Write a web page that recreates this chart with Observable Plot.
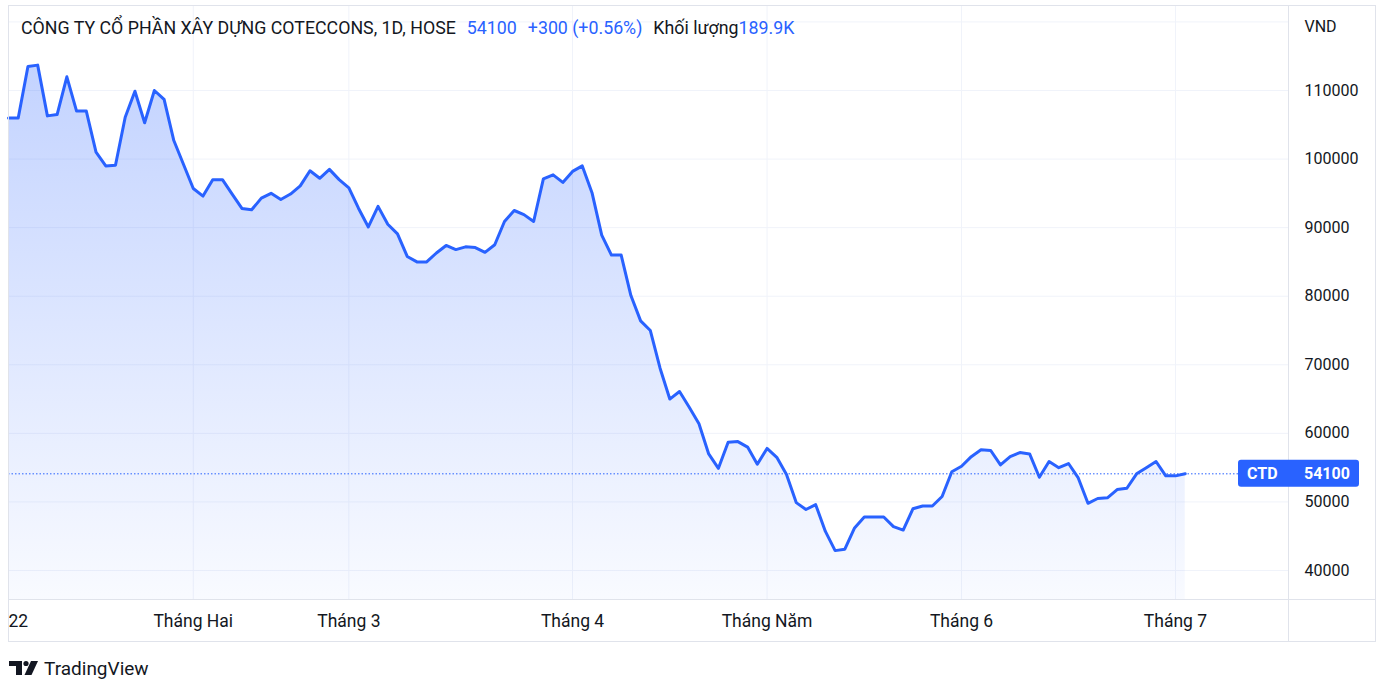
<!DOCTYPE html>
<html>
<head>
<meta charset="utf-8">
<script src="https://cdn.jsdelivr.net/npm/d3@7"></script>
<script src="https://cdn.jsdelivr.net/npm/@observablehq/plot@0.6"></script>
<style>
  body { margin: 0; background: #fff; font-family: Roboto, "Noto Sans", sans-serif; }
  #wrap { position: relative; width: 1390px; height: 694px; overflow: hidden; background: #fff; }
  #chart { position: absolute; left: 0; top: 0; }
  #title { position: absolute; left: 21px; top: 18px; line-height: 20px; font-size: 17.8px; color: #131722; white-space: nowrap; }
  #title .v { color: #2962ff; }
  #title .gap { margin-left: 11px; }
  #logo { position: absolute; left: 9px; top: 656px; height: 24px; display: flex; align-items: center; color: #131722; font-size: 19px; }
  #logo svg { margin-right: 5px; }
</style>
</head>
<body>
<div id="wrap">
  <div id="chart"></div>
  <div id="title"></div>
  <div id="logo"></div>
</div>
<script>
// ---------- data ----------
const ticker = "CTD";
const companyName = "CÔNG TY CỔ PHẦN XÂY DỰNG COTECCONS";
const interval = "1D";
const exchange = "HOSE";
const volumeLabel = "Khối lượng";
const volumeText = "189.9K";
const currency = "VND";
const brand = "TradingView";

// trading days of 2022, per month
const janDays = [4,5,6,7,10,11,12,13,14,17,18,19,20,21,24,25,26,27,28];
const febDays = [7,8,9,10,11,14,15,16,17,18,21,22,23,24,25,28];
const marDays = [1,2,3,4,7,8,9,10,11,14,15,16,17,18,21,22,23,24,25,28,29,30,31];
const aprDays = [1,4,5,6,7,8,12,13,14,15,18,19,20,21,22,25,26,27,28,29];
const mayDays = [4,5,6,9,10,11,12,13,16,17,18,19,20,23,24,25,26,27,30,31];
const junDays = [1,2,3,6,7,8,9,10,13,14,15,16,17,20,21,22,23,24,27,28,29,30];
const julDays = [1,4];

// daily closes (VND)
const closes = [
  106000,106000,113500,113700,106300,106500,112000,107000,107000,101000,
  99000,99100,106100,109900,105300,110000,108700,102700,99200,95700,
  94600,97000,97000,94900,92800,92600,94300,95000,94100,94900,
  96100,98300,97200,98500,97000,95800,92800,90100,93100,90500,
  89100,85800,85000,85000,86300,87400,86800,87200,87100,86400,
  87500,90900,92500,91900,90900,97100,97700,96600,98200,99000,
  95100,88900,86000,86000,80100,76400,75000,69500,65000,66100,
  63800,61400,57000,54900,58700,58800,58000,55500,57800,56500,
  54000,49900,48900,49600,45700,42900,43100,46200,47800,47800,
  47800,46400,45900,49000,49400,49400,50800,54400,55200,56600,
  57600,57500,55400,56600,57200,57000,53600,55900,55000,55600,
  53500,49800,50500,50600,51800,52000,54100,55000,55900,53800,
  53800,54100
];

const monthLabels = ["22","Tháng Hai","Tháng 3","Tháng 4","Tháng Năm","Tháng 6","Tháng 7"];
const yTickValues = [40000,50000,60000,70000,80000,90000,100000,110000];
const yGridValues = [40000,50000,60000,70000,80000,90000,100000,110000,120000];

// ---------- build tables ----------
const monthDays = [janDays, febDays, marDays, aprDays, mayDays, junDays, julDays];
const data = [];
const monthTicks = [];
monthDays.forEach((days, m) => {
  days.forEach((d, k) => {
    const i = data.length;
    if (k === 0) monthTicks.push({i, label: monthLabels[m]});
    data.push({i, date: new Date(2022, m, d), close: closes[i]});
  });
});
const last = closes[closes.length - 1];
const prev = closes[closes.length - 2];
const chg = last - prev;
const pct = (chg / prev * 100).toFixed(2);

// ---------- title ----------
document.getElementById("title").innerHTML =
  `${companyName}, ${interval}, ${exchange}<span class="v gap">${last}</span>` +
  `<span class="v gap">${chg >= 0 ? "+" : ""}${chg} (${chg >= 0 ? "+" : ""}${pct}%)</span>` +
  `<span class="gap">${volumeLabel}</span><span class="v">${volumeText}</span>`;

document.getElementById("logo").innerHTML =
  `<svg width="30" height="16" viewBox="0 0 30 16"><path d="M0 1H13V15H7V6H0Z" fill="#131722"/>` +
  `<circle cx="17" cy="3.5" r="2.6" fill="#131722"/><path d="M22 1H29L22.5 15H15.5Z" fill="#131722"/></svg>` +
  `<span>${brand}</span>`;

// ---------- chart ----------
const W = 1390, H = 694;
const mL = 8, mR = 102, mT = 5, mB = 95;
const yDomain = [35771, 122396];
const xDomain = [0, 131.62];
const blue = "#2962ff";
const ink = "#131722";
const gridColor = "#f0f3fa";
const borderColor = "#e0e3eb";

const plot = Plot.plot({
  width: W, height: H,
  marginLeft: mL, marginRight: mR, marginTop: mT, marginBottom: mB,
  x: {type: "linear", domain: xDomain, axis: null},
  y: {domain: yDomain, axis: null},
  style: {background: "transparent", fontFamily: "Roboto, sans-serif", fontSize: "16px", color: ink, overflow: "visible"},
  marks: [
    Plot.ruleY(yGridValues, {stroke: gridColor, strokeWidth: 1}),
    Plot.ruleX(monthTicks, {x: "i", stroke: gridColor, strokeWidth: 1}),
    Plot.areaY(data, {x: "i", y1: yDomain[0], y2: "close", fill: "url(#ctdGrad)"}),
    Plot.ruleY([last], {stroke: blue, strokeWidth: 1, strokeDasharray: "1.5,2"}),
    Plot.lineY(data, {x: "i", y: "close", stroke: blue, strokeWidth: 3, strokeLinejoin: "round", strokeLinecap: "round"}),
    Plot.text(yTickValues, {y: d => d, text: d => String(d), frameAnchor: "right", dx: 16, textAnchor: "start", fill: ink, fontSize: 16}),
    Plot.text([currency], {frameAnchor: "top-right", dx: 16, dy: 15, textAnchor: "start", fill: ink, fontSize: 16}),
    Plot.text(monthTicks.slice(0, 1), {x: "i", text: "label", frameAnchor: "bottom", dy: 27, textAnchor: "start", fill: ink, fontSize: 17.5}),
    Plot.text(monthTicks.slice(1), {x: "i", text: "label", frameAnchor: "bottom", dy: 27, textAnchor: "middle", fill: ink, fontSize: 17.5})
  ]
});
document.getElementById("chart").appendChild(plot);

const svg = d3.select(plot);
const yS = plot.scale("y");
const lineTop = yS.apply(d3.max(closes));
const plotBottom = H - mB;
const plotRight = W - mR;

const grad = svg.insert("defs", ":first-child").append("linearGradient")
  .attr("id", "ctdGrad").attr("gradientUnits", "userSpaceOnUse")
  .attr("x1", 0).attr("x2", 0).attr("y1", lineTop).attr("y2", plotBottom);
grad.append("stop").attr("offset", 0).attr("stop-color", blue).attr("stop-opacity", 0.28);
grad.append("stop").attr("offset", 1).attr("stop-color", blue).attr("stop-opacity", 0.03);

// panel borders
const frame = svg.append("g").attr("stroke", borderColor).attr("fill", "none");
frame.append("rect").attr("x", mL + 0.5).attr("y", mT + 0.5).attr("width", 1375 - mL).attr("height", 641 - mT);
frame.append("line").attr("x1", plotRight + 0.5).attr("x2", plotRight + 0.5).attr("y1", mT).attr("y2", 641);
frame.append("line").attr("x1", mL).attr("x2", 1375).attr("y1", plotBottom + 0.5).attr("y2", plotBottom + 0.5);

// last price label
const yl = yS.apply(last);
const lab = svg.append("g").attr("text-anchor", "start");
lab.append("rect").attr("x", 1238).attr("y", yl - 13.5).attr("width", 121).attr("height", 27).attr("rx", 3).attr("fill", blue);
lab.append("text").attr("x", 1247).attr("y", yl).attr("dy", "0.36em").attr("fill", "#fff")
  .attr("text-anchor", "start").attr("font-weight", "bold").attr("font-size", 16).text(ticker);
lab.append("text").attr("x", plotRight + 16).attr("y", yl).attr("dy", "0.36em").attr("fill", "#fff")
  .attr("text-anchor", "start").attr("font-weight", "bold").attr("font-size", 16).text(String(last));
</script>
</body>
</html>
